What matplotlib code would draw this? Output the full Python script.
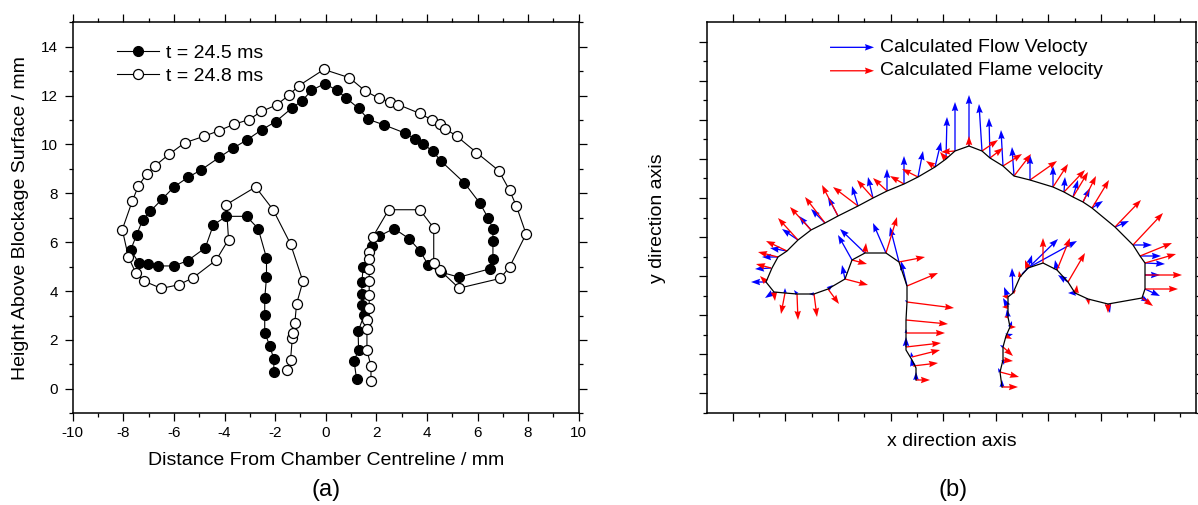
import numpy as np
import matplotlib
matplotlib.use("Agg")
import matplotlib.pyplot as plt
from matplotlib.ticker import MultipleLocator, FixedLocator

plt.rcParams['font.family'] = ['Liberation Sans', 'DejaVu Sans']
plt.rcParams['axes.unicode_minus'] = False

# ---------------- (a) flame front positions (mm) ----------------
t1_label = "t = 24.5 ms"
t1_x = [-2.05, -2.05, -2.21, -2.41, -2.41, -2.41, -2.34, -2.34, -2.67, -3.13, -3.93, -4.44,
        -4.76, -5.45, -5.99, -6.61, -7.01, -7.39, -7.71, -7.47, -7.23, -6.93, -6.46, -5.99,
        -5.45, -4.91, -4.21, -3.66, -3.11, -2.53, -1.97, -1.35, -0.92, -0.57, -0.04, 0.44,
        0.82, 1.30, 1.68, 2.31, 3.15, 3.53, 3.86, 4.23, 4.55, 5.48, 6.10, 6.42, 6.61, 6.61,
        6.61, 6.48, 5.27, 4.54, 4.06, 3.74, 3.29, 2.70, 2.09, 1.83, 1.48, 1.43, 1.43, 1.43,
        1.52, 1.28, 1.30, 1.12, 1.22]
t1_y = [0.67, 1.21, 1.76, 2.30, 3.03, 3.70, 4.56, 5.36, 6.56, 7.06, 7.06, 6.71,
        5.77, 5.25, 5.03, 5.03, 5.10, 5.16, 5.68, 6.31, 6.93, 7.27, 7.77, 8.27,
        8.65, 8.97, 9.47, 9.85, 10.19, 10.60, 10.94, 11.48, 11.80, 12.21, 12.49, 12.22,
        11.89, 11.48, 11.03, 10.80, 10.46, 10.22, 10.01, 9.73, 9.33, 8.43, 7.59, 6.99, 6.56, 6.04,
        5.31, 4.91, 4.57, 4.78, 5.05, 5.63, 6.15, 6.56, 6.24, 5.84, 4.98, 4.37, 3.89, 3.42,
        3.02, 2.35, 1.60, 1.14, 0.41]

t2_label = "t = 24.8 ms"
t2_x = [-1.52, -1.39, -1.32, -1.28, -1.22, -1.15, -0.90, -1.39, -2.08, -2.77, -3.93, -3.84,
        -4.33, -5.25, -5.81, -6.50, -7.18, -7.50, -7.80, -8.04, -7.65, -7.41, -7.08, -6.73,
        -6.19, -5.57, -4.80, -4.23, -3.64, -3.03, -2.54, -1.94, -1.44, -1.07, -0.07, 0.94,
        1.55, 2.10, 2.55, 2.87, 3.72, 4.19, 4.51, 4.72, 5.19, 5.96, 6.84, 7.27, 7.54, 7.92,
        7.27, 6.90, 5.27, 4.51, 4.27, 4.27, 3.72, 2.49, 1.85, 1.72, 1.72, 1.72, 1.72, 1.72,
        1.72, 1.63, 1.63, 1.63, 1.79, 1.79]
t2_y = [0.76, 1.18, 2.07, 2.30, 2.71, 3.48, 4.40, 5.93, 7.33, 8.26, 7.54, 6.11,
        5.27, 4.54, 4.26, 4.11, 4.41, 4.73, 5.40, 6.52, 7.67, 8.29, 8.79, 9.14,
        9.60, 10.07, 10.34, 10.56, 10.82, 11.02, 11.35, 11.62, 12.03, 12.40, 13.07, 12.73,
        12.20, 11.89, 11.74, 11.63, 11.27, 11.01, 10.82, 10.65, 10.33, 9.67, 8.93, 8.12, 7.47, 6.34,
        4.99, 4.52, 4.12, 4.86, 5.13, 6.58, 7.33, 7.33, 6.20, 5.59, 5.32, 4.91, 4.40, 3.85,
        3.32, 2.80, 2.44, 1.58, 0.93, 0.31]

xticks_a = [-10, -8, -6, -4, -2, 0, 2, 4, 6, 8, 10]
yticks_a = [0, 2, 4, 6, 8, 10, 12, 14]

# ---------------- (b) front and velocity vectors (arbitrary units) ----------------
front_x = [916, 916, 912, 906, 906, 906, 906, 907, 907, 899, 886, 865, 852, 845, 828, 814, 797,
           785, 774, 766, 772, 778, 787, 798, 811, 825, 838, 858, 873, 887, 904, 918, 935, 946,
           955, 969, 982, 990, 1003, 1014, 1030, 1053, 1064, 1073, 1083, 1092, 1115, 1133, 1140,
           1145, 1145, 1142, 1108, 1088, 1075, 1068, 1057, 1043, 1028, 1020, 1013, 1008, 1008,
           1008, 1010, 1006, 1003, 1003, 1000, 1002]
front_y = [380, 368, 360, 350, 347, 333, 320, 302, 286, 262, 253, 253, 260, 279, 289, 294, 294,
           293, 292, 282, 268, 257, 251, 240, 230, 223, 216, 206, 198, 191, 184, 177, 167, 159,
           151, 146, 151, 158, 166, 176, 180, 187, 192, 197, 202, 208, 227, 245, 256,
           263, 289, 298, 304, 299, 293, 282, 270, 263, 268, 277, 293, 297, 307,
           317, 327, 336, 347, 360, 372, 387]

# flame velocity vectors: base point and tip point
flame_bx = [916, 913, 912, 906, 906, 906, 907, 907, 899, 886, 865, 852, 845, 828, 814, 797, 785,
            774, 766, 771, 778, 787, 798, 811, 825, 838, 858, 873, 887, 904, 918, 935, 946, 955,
            969, 982, 990, 1003, 1014, 1030, 1053, 1064, 1073, 1083, 1092, 1115, 1133, 1140, 1145,
            1145, 1145, 1142, 1108, 1088, 1076, 1068, 1057, 1043, 1028, 1020, 1013, 1008, 1008,
            1008, 1010, 1006, 1003, 1003, 1000, 1002]
flame_by = [380, 366, 357, 347, 333, 320, 302, 286, 262, 253, 253, 260, 279, 289, 294, 294, 293,
            292, 282, 268, 257, 251, 240, 230, 223, 216, 206, 198, 191, 184, 177, 167, 159, 151,
            146, 151, 158, 166, 176, 180, 187, 192, 197, 202, 208, 227, 245, 256, 263,
            275, 289, 298, 304, 299, 293, 282, 270, 263, 268, 277, 293, 297, 307,
            317, 327, 336, 347, 360, 372, 387]
flame_tx = [930, 938, 940, 941, 945, 948, 954, 938, 925, 897, 866, 867, 868, 839, 817, 798, 781,
            775, 760, 756, 758, 766, 778, 790, 805, 822, 833, 857, 873, 890, 902, 926, 940, 941,
            969, 998, 1003, 1022, 1031, 1057, 1068, 1085, 1088, 1096, 1109, 1141, 1163, 1172, 1176,
            1182, 1178, 1153, 1108, 1089, 1077, 1085, 1070, 1043, 1025, 1019, 1016, 1002, 1002,
            1004, 1016, 1012, 1013, 1013, 1019, 1018]
flame_ty = [380, 363, 350, 343, 333, 324, 308, 273, 257, 217, 243, 264, 285, 304, 317, 320, 314,
            301, 276, 264, 252, 241, 218, 207, 197, 185, 187, 180, 178, 176, 169, 161, 152, 152,
            136, 140, 148, 154, 154, 161, 164, 170, 172, 176, 180, 200, 213, 243, 254,
            275, 289, 306, 313, 305, 285, 253, 238, 238, 260, 271, 290, 296, 307,
            317, 327, 339, 356, 361, 377, 387]

# flow velocity vectors: base point and tip point
flow_bx = [916, 913, 912, 906, 906, 907, 907, 899, 886, 865, 852, 845, 828, 814, 797, 785, 774,
           766, 771, 778, 787, 798, 811, 825, 838, 858, 873, 887, 904, 918, 935, 946, 955, 969,
           982, 990, 1003, 1014, 1030, 1053, 1064, 1073, 1083, 1092, 1115, 1133, 1140, 1145, 1145,
           1145, 1142, 1108, 1088, 1076, 1068, 1057, 1026, 1022, 1028, 1013, 1008, 1008, 1008,
           1010, 1006, 1003, 1003, 1000, 1002]
flow_by = [380, 366, 357, 347, 333, 302, 286, 262, 253, 253, 260, 279, 289, 294, 294, 293, 292,
           282, 268, 257, 251, 240, 230, 223, 216, 206, 198, 191, 184, 177, 167, 159, 151, 146,
           151, 158, 166, 176, 180, 187, 192, 197, 202, 208, 227, 245, 256, 263, 275,
           289, 298, 304, 299, 293, 282, 270, 269, 274, 268, 293, 297, 307, 317,
           327, 336, 347, 360, 372, 387]
flow_tx = [916, 911, 911, 906, 906, 905, 901, 890, 873, 840, 838, 842, 833, 809, 794, 785, 765,
           751, 755, 762, 770, 782, 799, 811, 828, 852, 868, 887, 904, 923, 941, 947, 955, 969,
           979, 989, 1001, 1012, 1030, 1053, 1065, 1078, 1090, 1103, 1129, 1152, 1161, 1165, 1160,
           1160, 1149, 1110, 1085, 1068, 1058, 1055, 1077, 1058, 1032, 1012, 1004, 1003, 1007,
           1012, 1013, 1000, 1004, 998, 1002]
flow_ty = [372, 358, 352, 337, 329, 300, 261, 227, 223, 229, 235, 265, 285, 294, 290, 288, 298,
           282, 269, 257, 248, 229, 216, 209, 197, 186, 177, 169, 156, 151, 142, 117, 102, 95,
           104, 118, 130, 147, 155, 166, 177, 180, 188, 201, 221, 245, 256, 264, 275,
           296, 302, 313, 299, 293, 275, 260, 241, 239, 255, 268, 287, 298, 309,
           321, 334, 345, 365, 368, 380]

flow_label = "Calculated Flow Velocty"
flame_label = "Calculated Flame velocity"

# ---------------- figure ----------------
fig = plt.figure(figsize=(11.98, 5.05), dpi=100)
axa = fig.add_axes([72.7 / 1198, 91.7 / 505, 506 / 1198, 391 / 505])
axb = fig.add_axes([706.7 / 1198, 91.7 / 505, 489.3 / 1198, 391 / 505])

# panel (a)
axa.plot(t1_x, t1_y, '-o', color='black', lw=0.8, ms=7.2, mfc='black', mec='black',
         mew=0.8, label=t1_label, zorder=3)
axa.plot(t2_x, t2_y, '-o', color='black', lw=0.8, ms=7.2, mfc='white', mec='black',
         mew=0.9, label=t2_label, zorder=3)
axa.set_xlim(-10, 10)
axa.set_ylim(-1, 15)
axa.set_xticks(xticks_a)
axa.set_yticks(yticks_a)
axa.xaxis.set_minor_locator(MultipleLocator(1))
axa.yaxis.set_minor_locator(MultipleLocator(1))
axa.set_xlabel("Distance From Chamber Centreline / mm", fontsize=14)
axa.set_ylabel("Height Above Blockage Surface / mm", fontsize=14)
axa.xaxis.set_label_coords(0.5, -0.10)
axa.yaxis.set_label_coords(-0.086, 0.5)
leg = axa.legend(loc='upper left', bbox_to_anchor=(0.087, 0.943), frameon=False,
                 fontsize=14, handlelength=2.2, handletextpad=0.35, labelspacing=0.26,
                 borderpad=0, borderaxespad=0, numpoints=1)

# panel (b)
arrow_kw = dict(angles='xy', scale_units='xy', scale=1, units='dots',
                width=1.3, headwidth=5, headlength=7, headaxislength=6.3)
axb.quiver(flow_bx, flow_by, np.subtract(flow_tx, flow_bx), np.subtract(flow_ty, flow_by),
           color='#0000ff', zorder=2, **arrow_kw)
Qr = axb.quiver(flame_bx, flame_by, np.subtract(flame_tx, flame_bx),
                np.subtract(flame_ty, flame_by), color='#ff0000', zorder=3, **arrow_kw)
axb.plot(front_x, front_y, '-', color='black', lw=0.9, zorder=4)
axb.set_xlim(706.7, 1196)
axb.set_ylim(413.3, 22.3)

Qb_key = axb.quiver([0], [0], [0], [0], color='#0000ff', **arrow_kw)
axb.quiverkey(Qb_key, 0.342, 0.936, 44, flow_label, labelpos='E', coordinates='axes',
              labelsep=0.06, fontproperties={'size': 14})
axb.quiverkey(Qr, 0.342, 0.876, 44, flame_label, labelpos='E', coordinates='axes',
              labelsep=0.06, fontproperties={'size': 14})

axb.xaxis.set_major_locator(FixedLocator(np.arange(732.7, 1196, 52.6)))
axb.xaxis.set_minor_locator(FixedLocator(np.arange(706.4, 1196, 26.3)))
axb.yaxis.set_major_locator(FixedLocator(393.3 - 39.06 * np.arange(0, 10)))
axb.yaxis.set_minor_locator(FixedLocator(393.3 - 19.53 * np.arange(-1, 20)))
axb.set_xticklabels([])
axb.set_yticklabels([])
axb.set_xlabel("x direction axis", fontsize=14)
axb.set_ylabel("y direction axis", fontsize=14)
axb.xaxis.set_label_coords(0.5, -0.05)
axb.yaxis.set_label_coords(-0.084, 0.5)

for ax in (axa, axb):
    for s in ax.spines.values():
        s.set_linewidth(1.1)
    ax.tick_params(which='both', direction='out', top=True, right=True,
                   labeltop=False, labelright=False, width=0.9)
    ax.tick_params(which='major', length=6, labelsize=11, pad=3.5)
    ax.tick_params(which='minor', length=3)
axa.tick_params(axis='y', which='major', pad=4.5)

fig.text(325.7 / 1198, 1 - 490 / 505, "(a)", fontsize=17, ha='center', va='center')
fig.text(953 / 1198, 1 - 490 / 505, "(b)", fontsize=17, ha='center', va='center')

fig.savefig("out.png", dpi=100)
